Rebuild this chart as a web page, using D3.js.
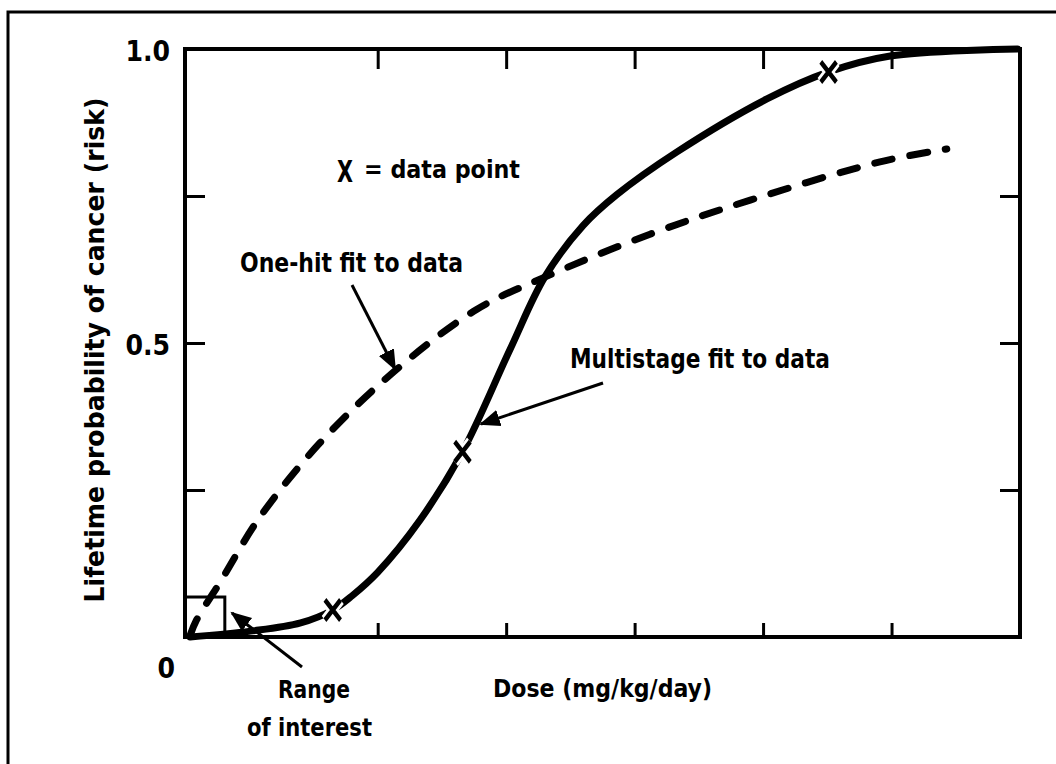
<!DOCTYPE html>
<html>
<head>
<meta charset="utf-8">
<script src="https://cdn.jsdelivr.net/npm/d3@7"></script>
<style>
  body { margin: 0; background: #fff; }
  text { font-family: "Liberation Sans Narrow", "DejaVu Sans Condensed", sans-serif; font-weight: bold; fill: #000; }
</style>
</head>
<body>
<div id="chart"></div>
<script>
// dose in arbitrary units along the x axis, risk = lifetime probability
const multistageDose = [0.04, 0.51, 0.9, 1.15, 1.3, 1.5, 1.83, 2.16, 2.53, 2.8, 3.1, 3.36, 3.83, 4.53, 5.01, 5.49, 6.48];
const multistageRisk = [0.0, 0.01, 0.024, 0.046, 0.07, 0.11, 0.199, 0.315, 0.489, 0.612, 0.7, 0.752, 0.825, 0.915, 0.961, 0.988, 1.0];

const oneHitDose = [0.04, 0.09, 0.27, 0.58, 1.05, 1.62, 2.27, 2.8, 3.62, 4.4, 5.41, 5.93];
const oneHitRisk = [0.003, 0.029, 0.092, 0.203, 0.33, 0.45, 0.557, 0.612, 0.685, 0.743, 0.808, 0.83];

const dataDose = [1.15, 2.16, 5.01];
const dataRisk = [0.046, 0.315, 0.961];

const xTicks = [1.5, 2.5, 3.5, 4.5, 5.5];
const yTicks = [0.25, 0.5, 0.75];
const yTickLabels = [{ v: 1.0, t: "1.0" }, { v: 0.5, t: "0.5" }, { v: 0, t: "0" }];

const interestDose = [0, 0.31];
const interestRisk = [0, 0.068];

const width = 1056, height = 764;
const margin = { top: 49, right: 36, bottom: 127, left: 185 };

const svg = d3.select("#chart").append("svg")
  .attr("width", width)
  .attr("height", height);

// outer frame (runs off the right and bottom of the picture)
svg.append("rect")
  .attr("x", 8).attr("y", 12)
  .attr("width", 1100).attr("height", 800)
  .attr("fill", "none").attr("stroke", "#000").attr("stroke-width", 3);

const x = d3.scaleLinear().domain([0, 6.5]).range([margin.left, width - margin.right]);
const y = d3.scaleLinear().domain([0, 1]).range([height - margin.bottom, margin.top]);

// plot box
svg.append("rect")
  .attr("x", x(0)).attr("y", y(1))
  .attr("width", x(6.5) - x(0)).attr("height", y(0) - y(1))
  .attr("fill", "none").attr("stroke", "#000").attr("stroke-width", 4);

// inward ticks
svg.append("g").attr("transform", `translate(0,${y(1)})`)
  .call(d3.axisBottom(x).tickValues(xTicks).tickSize(20).tickFormat(""))
  .call(g => g.select(".domain").remove())
  .selectAll("line").attr("stroke-width", 3);
svg.append("g").attr("transform", `translate(0,${y(0)})`)
  .call(d3.axisTop(x).tickValues(xTicks).tickSize(14).tickFormat(""))
  .call(g => g.select(".domain").remove())
  .selectAll("line").attr("stroke-width", 3);
svg.append("g").attr("transform", `translate(${x(0)},0)`)
  .call(d3.axisRight(y).tickValues(yTicks).tickSize(20).tickFormat(""))
  .call(g => g.select(".domain").remove())
  .selectAll("line").attr("stroke-width", 3);
svg.append("g").attr("transform", `translate(${x(6.5)},0)`)
  .call(d3.axisLeft(y).tickValues(yTicks).tickSize(20).tickFormat(""))
  .call(g => g.select(".domain").remove())
  .selectAll("line").attr("stroke-width", 3);

// y tick labels
svg.selectAll(".ylab").data(yTickLabels).enter().append("text")
  .attr("class", "ylab")
  .attr("x", d => d.v === 0 ? 175 : 170)
  .attr("y", d => d.v === 0 ? y(0) + 41 : y(d.v) + 12)
  .attr("text-anchor", "end")
  .attr("font-size", 28)
  .text(d => d.t);

// range of interest box
svg.append("rect")
  .attr("x", x(interestDose[0])).attr("y", y(interestRisk[1]))
  .attr("width", x(interestDose[1]) - x(interestDose[0]))
  .attr("height", y(interestRisk[0]) - y(interestRisk[1]))
  .attr("fill", "none").attr("stroke", "#000").attr("stroke-width", 3);

const line = d3.line().x(d => x(d[0])).y(d => y(d[1])).curve(d3.curveCatmullRom.alpha(0.5));

svg.append("path")
  .datum(oneHitDose.map((d, i) => [d, oneHitRisk[i]]))
  .attr("d", line)
  .attr("fill", "none").attr("stroke", "#000").attr("stroke-width", 7)
  .attr("stroke-linecap", "round")
  .attr("stroke-dasharray", "18,18");

svg.append("path")
  .datum(multistageDose.map((d, i) => [d, multistageRisk[i]]))
  .attr("d", line)
  .attr("fill", "none").attr("stroke", "#000").attr("stroke-width", 7)
  .attr("stroke-linecap", "round");

// data point crosses, with a white gap where they break the curve
const cross = d3.symbol(d3.symbolX, 160);
const pts = dataDose.map((d, i) => [d, dataRisk[i]]);
svg.selectAll(".halo").data(pts).enter().append("path")
  .attr("transform", d => `translate(${x(d[0])},${y(d[1])}) scale(1,1.3)`)
  .attr("d", cross)
  .attr("fill", "none").attr("stroke", "#fff").attr("stroke-width", 9);
svg.selectAll(".pt").data(pts).enter().append("path")
  .attr("transform", d => `translate(${x(d[0])},${y(d[1])}) scale(1,1.3)`)
  .attr("d", cross)
  .attr("fill", "none").attr("stroke", "#000").attr("stroke-width", 4);

// annotations
svg.append("defs").append("marker")
  .attr("id", "head").attr("viewBox", "0 0 10 10")
  .attr("refX", 9).attr("refY", 5)
  .attr("markerWidth", 7).attr("markerHeight", 7)
  .attr("markerUnits", "strokeWidth")
  .attr("orient", "auto")
  .append("path").attr("d", "M0,1 L10,5 L0,9 Z").attr("fill", "#000");

function arrow(x1, y1, x2, y2) {
  svg.append("line")
    .attr("x1", x1).attr("y1", y1).attr("x2", x2).attr("y2", y2)
    .attr("stroke", "#000").attr("stroke-width", 3)
    .attr("marker-end", "url(#head)");
}
arrow(352, 285, 395, 369);
arrow(603, 383, 481, 424);
arrow(302, 667, 232, 613);

function label(t, x0, yb, size, len) {
  svg.append("text")
    .attr("x", x0).attr("y", yb)
    .attr("font-size", size)
    .attr("textLength", len).attr("lengthAdjust", "spacingAndGlyphs")
    .text(t);
}
svg.append("text")
  .attr("x", 337).attr("y", 182)
  .attr("font-size", 30).attr("font-weight", "normal")
  .attr("textLength", 16).attr("lengthAdjust", "spacingAndGlyphs")
  .text("X");
label("= data point", 364, 178, 25, 156);
label("One-hit fit to data", 240, 272, 27, 223);
label("Multistage fit to data", 570, 368, 27, 260);
label("Range", 278, 698, 25, 72);
label("of interest", 247, 736, 25, 125);
label("Dose (mg/kg/day)", 493, 697, 25, 219);

svg.append("text")
  .attr("transform", "translate(104,350) rotate(-90)")
  .attr("text-anchor", "middle")
  .attr("font-size", 27)
  .attr("textLength", 505).attr("lengthAdjust", "spacingAndGlyphs")
  .text("Lifetime probability of cancer (risk)");
</script>
</body>
</html>
